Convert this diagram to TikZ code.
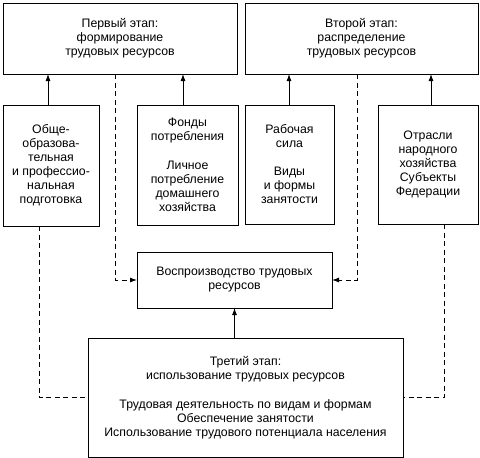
\documentclass[tikz,border=0pt]{standalone}
\usepackage{fontspec}
\setmainfont{Liberation Sans}
\usetikzlibrary{arrows.meta}
\begin{document}
\begin{tikzpicture}[x=1pt,y=-1pt,
  box/.style={draw, line width=0.9pt, align=center, inner sep=0pt, outer sep=0pt,
    font=\fontsize{12.3}{14}\selectfont},
  arr/.style={line width=0.9pt, -{Latex[length=7pt,width=5pt]}},
  dsh/.style={line width=0.9pt, dash pattern=on 5pt off 3.5pt},
  dsharr/.style={dsh, -{Latex[length=7pt,width=5pt]}}]
\useasboundingbox (0,0) rectangle (480,458);
\node[box, minimum width=234pt, minimum height=71pt] (A) at (120,38.5)
  {Первый этап:\\формирование\\трудовых ресурсов};
\node[box, minimum width=233pt, minimum height=71pt] (B) at (361.5,38.5)
  {Второй этап:\\распределение\\трудовых ресурсов};
\node[box, minimum width=96pt, minimum height=121pt] (C1) at (51,165.5)
  {Обще-\\образова-\\тельная\\и профессио-\\нальная\\подготовка};
\node[box, minimum width=101pt, minimum height=120pt] (C2) at (187.5,165)
  {Фонды\\потребления\\[15pt]Личное\\потребление\\домашнего\\хозяйства};
\node[box, minimum width=89pt, minimum height=119pt] (C3) at (289.5,164.5)
  {Рабочая\\сила\\[14pt]Виды\\и формы\\занятости};
\node[box, minimum width=100pt, minimum height=119pt] (C4) at (428,164.5)
  {Отрасли\\народного\\хозяйства\\Субъекты\\Федерации};
\node[box, minimum width=195pt, minimum height=56pt] (M) at (234.5,280)
  {Воспроизводство трудовых\\ресурсов};
\node[box, minimum width=315pt, minimum height=119pt] (D) at (245.5,397.5)
  {Третий этап:\\использование трудовых ресурсов\\[15pt]Трудовая деятельность по видам и формам\\Обеспечение занятости\\Использование трудового потенциала населения};
\draw[arr] ([xshift=-3pt]C1.north) -- ([xshift=-3pt]C1.north |- A.south);
\draw[arr] ([xshift=-4.5pt]C2.north) -- ([xshift=-4.5pt]C2.north |- A.south);
\draw[arr] ([xshift=-0.5pt]C3.north) -- ([xshift=-0.5pt]C3.north |- B.south);
\draw[arr] ([xshift=3pt]C4.north) -- ([xshift=3pt]C4.north |- B.south);
\draw[dsharr] ([xshift=-5pt]A.south) |- (M.west);
\draw[dsharr] ([xshift=-4.5pt]B.south) |- (M.east);
\draw[dsh] ([xshift=-12pt]C1.south) |- (D.west);
\draw[dsh] ([xshift=16pt]C4.south) |- (D.east);
\draw[arr] (D.north -| M.south) -- (M.south);
\end{tikzpicture}
\end{document}
